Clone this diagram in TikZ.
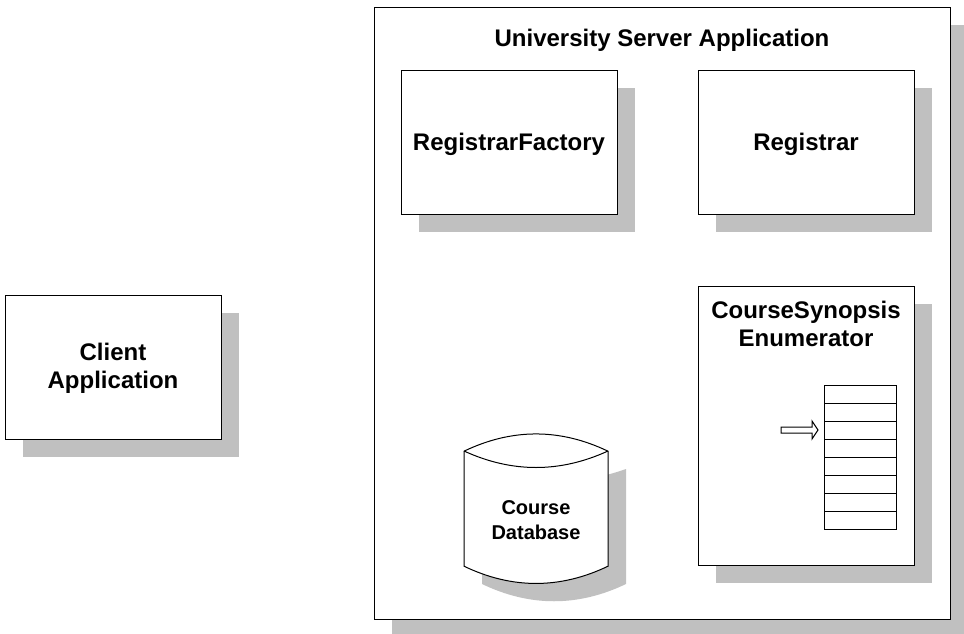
\documentclass[tikz,border=0pt]{standalone}
\usepackage{fontspec}
\setmainfont{Liberation Sans}
\definecolor{shade}{RGB}{192,192,192}
\tikzset{
  shadowfill/.style={fill=shade,draw=none},
  boxnode/.style={draw=black,line width=1pt,fill=white,inner sep=0pt,shift={(0,0.2)}},
  big/.style={font=\bfseries\fontsize{24}{28}\selectfont,align=center,inner sep=0pt},
  small/.style={font=\bfseries\fontsize{20}{25}\selectfont,align=center,inner sep=0pt},
  rowline/.style={draw=black,line width=1pt,shift={(0,0.5)}}
}
\newcommand{\shbox}[5]{% name, x1,y1,x2,y2
  \fill[shadowfill] (#2+18,#3+18) rectangle (#4+18,#5+18);
  \draw[boxnode] (#2,#3) rectangle (#4,#5);
  \coordinate (#1) at ({(#2+#4)/2},{(#3+#5)/2});
}
\begin{document}
\begin{tikzpicture}[x=1pt,y=-1pt]
\useasboundingbox (0,0) rectangle (964,634);
\shbox{server}{374}{7}{950}{619}
\shbox{factory}{401}{70}{617}{214}
\shbox{registrar}{698}{70}{914}{214}
\shbox{enum}{698}{286}{914}{565}
\shbox{client}{5}{295}{221}{439}
% database
\fill[shadowfill] (482,469) .. controls (530,486) and (578,486) .. (626,469) -- (626,584) .. controls (578,607) and (530,607) .. (482,584) -- cycle;
\draw[boxnode] (464,451) .. controls (512,428) and (560,428) .. (608,451) -- (608,566) .. controls (560,589) and (512,589) .. (464,566) -- cycle;
\draw[draw=black,line width=1pt] (464,451) .. controls (512,473) and (560,473) .. (608,451);
% list
\draw[boxnode] (824,385) rectangle (896,529);
\foreach \yy in {403,421,439,457,475,493,511}
  \draw[rowline] (824,\yy) -- (896,\yy);
% pointer
\draw[draw=black,line width=1pt,fill=white] (781,427) -- (812,427) -- (812,421) -- (818,430) -- (812,439) -- (812,433) -- (781,433) -- cycle;
% labels
\node[big] (serverlabel) at (662,40) {University Server Application};
\node[big] (factorylabel) at (509,144) {RegistrarFactory};
\node[big] (registrarlabel) at (806,144) {Registrar};
\node[big] (enumlabel) at (806,324) {CourseSynopsis\\Enumerator};
\node[big] (clientlabel) at (113,368) {Client\\Application};
\node[small] (dblabel) at (536,520) {Course\\Database};
\end{tikzpicture}
\end{document}
